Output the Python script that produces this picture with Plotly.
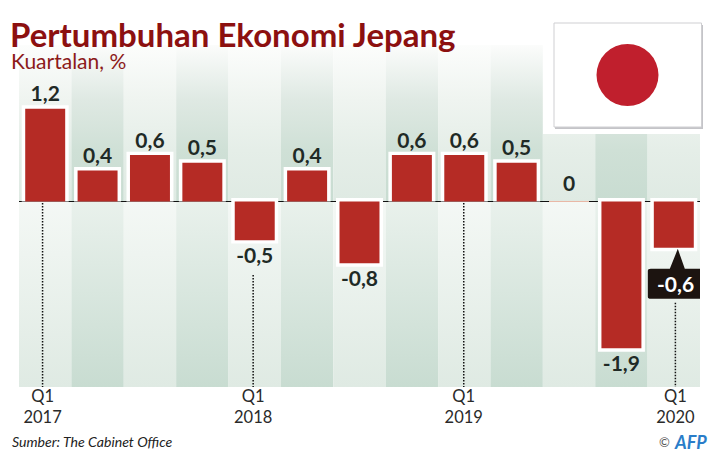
import plotly.graph_objects as go

quarters = list(range(13))
values = [1.2, 0.4, 0.6, 0.5, -0.5, 0.4, -0.8, 0.6, 0.6, 0.5, 0.0, -1.9, -0.6]
year_ticks = ["Q1<br>2017", "Q1<br>2018", "Q1<br>2019", "Q1<br>2020"]
year_tick_pos = [-0.05, 3.97, 7.99, 12.03]
dot_tops = [0, -0.93, 0, -1.29]

RED = "#b52b25"
INK = "#1f2a26"
W, H = 722, 469
L, R, T, B = 19, 700, 45, 387
YMIN, YMAX = -2.4, (201.5 - 45) / 77.3
FONT = "Lato"

def px(x): return (x - L) / (R - L)
def py(y): return (B - y) / (B - T)

fig = go.Figure()

upper = {0: [[0, "#dfeae3"], [.33, "#e5eee8"], [.65, "#eff4f0"], [1, "#fcfdfc"]],
         1: [[0, "#c8dcd1"], [.33, "#cfe0d6"], [.65, "#dfe9e3"], [1, "#fbfcfb"]]}
lower = {0: [[0, "#dfeae3"], [1, "#f4f8f5"]], 1: [[0, "#c8dcd1"], [1, "#e9f1ec"]]}
for i in quarters:
    k = i % 2
    xs = [i - .5, i + .5, i + .5, i - .5, i - .5]
    for y0, y1, c in [(0, YMAX, upper[k]), (YMIN, 0, lower[k])]:
        fig.add_trace(go.Scatter(
            x=xs, y=[y0, y0, y1, y1, y0], mode="none", fill="toself", hoverinfo="skip",
            fillgradient=dict(type="vertical", start=y0, stop=y1, colorscale=c),
        ))

fig.add_trace(go.Scatter(x=[-.5, 12.52], y=[0, 0], mode="lines", line=dict(color="#111", width=1.2), hoverinfo="skip"))
dx, dy = [], []
for p, t in zip(year_tick_pos, dot_tops):
    dx += [p, p, None]
    dy += [t - .02, YMIN, None]
fig.add_trace(go.Scatter(x=dx, y=dy, mode="lines", line=dict(color="#111", width=1.5, dash="1.5px,1.5px"), hoverinfo="skip"))

pad = 0.045
halo = [0 if v == 0 else (v + pad if v > 0 else v - 2 * pad) for v in values]
base = [pad if v < 0 else 0 for v in values]
fig.add_trace(go.Bar(x=quarters, y=halo, base=base, width=0.897, marker=dict(color="white", line=dict(width=0)), yaxis="y2"))
fig.add_trace(go.Bar(x=quarters, y=values, width=0.763, yaxis="y2",
                     marker=dict(color=RED, line=dict(width=[1 if v == 0 else 0 for v in values], color="#e9b9a6"))))

labels = [str(abs(v) if v == 0 else v).replace(".", ",").replace(",0", "") for v in values]
label_gap = [0.03 if v > 0 else (0.07 if v == 0 else -0.09) for v in values]
fig.add_trace(go.Scatter(
    x=quarters[:-1], y=[v + g for v, g in zip(values[:-1], label_gap)], yaxis="y2",
    mode="text", text=labels[:-1],
    textposition=["top center" if v >= 0 else "bottom center" for v in values[:-1]],
    textfont=dict(family=FONT, size=21, color=INK, weight=700), hoverinfo="skip",
))

shapes = []
def rect(x0, y0, x1, y1, fill, line=None, lw=0):
    shapes.append(dict(type="rect", xref="paper", yref="paper", x0=px(x0), x1=px(x1), y0=py(y1), y1=py(y0),
                       fillcolor=fill, line=dict(color=line or fill, width=lw), layer="above"))
rect(543, 0, 722, 134, "white")
rect(555, 25, 703, 129, "#c4c4c8")
rect(554, 23, 701.5, 127, "white", "#cfcfd2", 1)
shapes.append(dict(type="circle", xref="paper", yref="paper", x0=px(596.5), x1=px(658.5), y0=py(106), y1=py(44),
                   fillcolor="#c01f2d", line=dict(width=0), layer="above"))
shapes.append(dict(type="path", xref="x", yref="y", xsizemode="pixel", ysizemode="pixel",
                   xanchor=quarters[-1], yanchor=values[-1], layer="above",
                   fillcolor="#1c1410", line=dict(width=0),
                   path="M -23 -21 L -4 -21 L 4 -1 L 11 -21 L 29 -21 Q 31 -21 31 -23 L 31 -49 Q 31 -51 29 -51 "
                        "L -23 -51 Q -26 -51 -26 -49 L -26 -23 Q -26 -21 -23 -21 Z"))

ann = [
    dict(text="Kuartalan, %", x=px(9), y=py(60), font=dict(size=21, color="#8c1a1a", family=FONT), xanchor="left"),
    dict(text="<i>Sumber: The Cabinet Office</i>", x=px(9.5), y=py(442), font=dict(size=14.1, color="#222", family=FONT), xanchor="left"),
    dict(text="©", x=px(664), y=py(442), font=dict(size=13, color="#555", family=FONT), xanchor="center"),
    dict(text="<b><i>AFP</i></b>", x=px(690), y=py(441.5), font=dict(size=18, color="#2a7dc9", family=FONT), xanchor="center"),
]
for a in ann:
    a.update(xref="paper", yref="paper", yanchor="middle", showarrow=False)
ann.append(dict(text="<b>" + labels[-1] + "</b>", x=quarters[-1], y=values[-1], xref="x", yref="y2", xshift=2, yshift=-36,
                showarrow=False, font=dict(family=FONT, size=21, color="white")))

fig.update_layout(
    width=W, height=H, showlegend=False, barmode="overlay",
    margin=dict(l=L, r=W - R, t=T, b=H - B, pad=0, autoexpand=False),
    paper_bgcolor="white", plot_bgcolor="white",
    title=dict(text="<b>Pertumbuhan Ekonomi Jepang</b>", x=10 / W, xanchor="left", y=1 - 35.5 / H, yanchor="middle",
               font=dict(family=FONT, size=33, color="#8c1010")),
    xaxis=dict(range=[-.5, 12.5], tickvals=year_tick_pos, ticktext=year_ticks, showgrid=False, zeroline=False,
               ticks="", tickangle=0, ticklabelstandoff=-3, tickfont=dict(family=FONT, size=16.5, color="#2a2a2a"), showline=False),
    yaxis=dict(range=[YMIN, YMAX], visible=False, showgrid=False, zeroline=False),
    yaxis2=dict(range=[YMIN, YMAX], visible=False, overlaying="y", showgrid=False, zeroline=False),
    shapes=shapes, annotations=ann,
)
fig.write_html("out.html", post_script="document.body.style.margin='0';", config=dict(displayModeBar=False))
